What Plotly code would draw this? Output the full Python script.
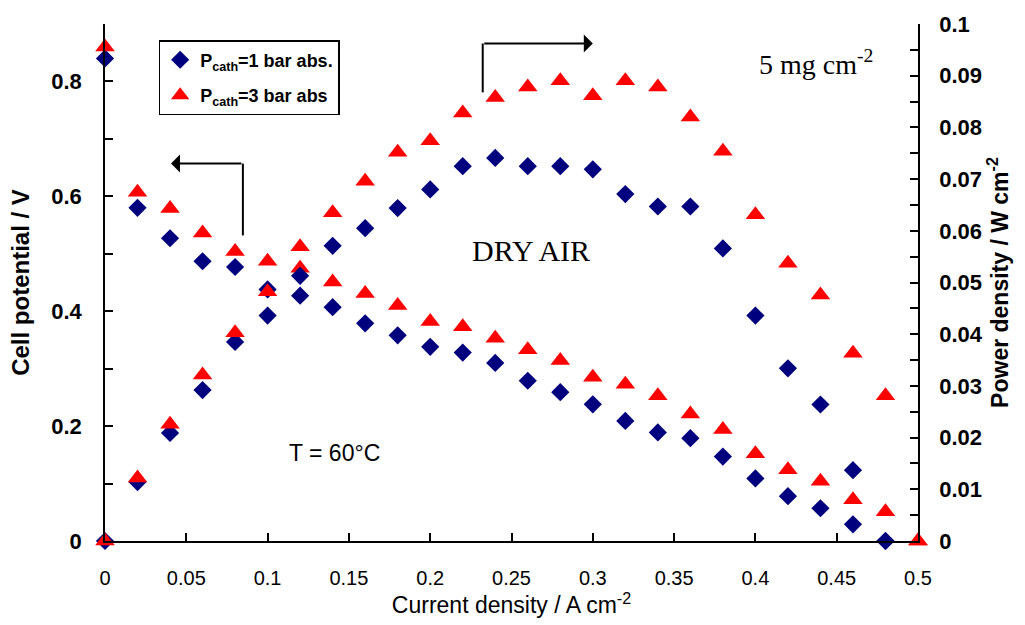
import plotly.graph_objects as go

# ---- data ----
current_1bar = [0, 0.02, 0.04, 0.06, 0.08, 0.10, 0.12, 0.14, 0.16, 0.18, 0.20, 0.22, 0.24,
                0.26, 0.28, 0.30, 0.32, 0.34, 0.36, 0.38, 0.40, 0.42, 0.44, 0.46, 0.48]
potential_1bar = [0.84, 0.580, 0.527, 0.487, 0.477, 0.438, 0.427, 0.407, 0.379, 0.358, 0.338,
                  0.328, 0.310, 0.279, 0.259, 0.238, 0.209, 0.189, 0.179, 0.147, 0.109, 0.078,
                  0.057, 0.029, 0.0]
power_1bar = [0.0, 0.0114, 0.0209, 0.0292, 0.0385, 0.0436, 0.0513, 0.0571, 0.0605, 0.0644,
              0.0680, 0.0725, 0.0741, 0.0725, 0.0725, 0.0719, 0.0671, 0.0647, 0.0647, 0.0566,
              0.0436, 0.0334, 0.0264, 0.0137, 0.0]

current_3bar = [0, 0.02, 0.04, 0.06, 0.08, 0.10, 0.12, 0.14, 0.16, 0.18, 0.20, 0.22, 0.24,
                0.26, 0.28, 0.30, 0.32, 0.34, 0.36, 0.38, 0.40, 0.42, 0.44, 0.46, 0.48, 0.50]
potential_3bar = [0.86, 0.607, 0.579, 0.536, 0.504, 0.487, 0.475, 0.451, 0.431, 0.410, 0.382,
                  0.373, 0.353, 0.333, 0.314, 0.285, 0.273, 0.253, 0.221, 0.194, 0.152, 0.124,
                  0.104, 0.072, 0.051, 0.0]
power_3bar = [0.0, 0.0122, 0.0226, 0.0321, 0.0403, 0.0482, 0.0569, 0.0635, 0.0696, 0.0752,
              0.0774, 0.0828, 0.0858, 0.0878, 0.0890, 0.0861, 0.0890, 0.0878, 0.0820, 0.0754,
              0.0631, 0.0537, 0.0476, 0.0363, 0.0281, 0.0]

x_ticks = [0, 0.05, 0.1, 0.15, 0.2, 0.25, 0.3, 0.35, 0.4, 0.45, 0.5]
x_ticklabels = ["0", "0.05", "0.1", "0.15", "0.2", "0.25", "0.3", "0.35", "0.4", "0.45", "0.5"]
y_ticks = [0, 0.2, 0.4, 0.6, 0.8]
y_ticklabels = ["0", "0.2", "0.4", "0.6", "0.8"]
y2_ticks = [0, 0.01, 0.02, 0.03, 0.04, 0.05, 0.06, 0.07, 0.08, 0.09, 0.1]
y2_ticklabels = ["0", "0.01", "0.02", "0.03", "0.04", "0.05", "0.06", "0.07", "0.08", "0.09", "0.1"]

NAVY = "#00007F"
RED = "#FF0000"
BOLD = "Liberation Sans, Arial, sans-serif"
NARROW = "Liberation Sans Narrow, Arial Narrow, Liberation Sans, sans-serif"
SERIF = "Liberation Serif, Times New Roman, serif"

dia = dict(symbol="diamond", size=14, color=NAVY, line=dict(width=0))
tri = dict(symbol="triangle-up", size=17, color=RED, line=dict(width=0))

fig = go.Figure()
fig.add_trace(go.Scatter(x=current_1bar, y=potential_1bar, mode="markers", marker=dia,
                         name="P<sub>cath</sub>=1 bar abs.", legendgroup="a", cliponaxis=False))
fig.add_trace(go.Scatter(x=current_3bar, y=potential_3bar, mode="markers", marker=tri,
                         name="P<sub>cath</sub>=3 bar abs", legendgroup="b", cliponaxis=False))
fig.add_trace(go.Scatter(x=current_1bar, y=power_1bar, mode="markers", marker=dia, yaxis="y2",
                         showlegend=False, legendgroup="a", cliponaxis=False))
fig.add_trace(go.Scatter(x=current_3bar, y=power_3bar, mode="markers", marker=tri, yaxis="y2",
                         showlegend=False, legendgroup="b", cliponaxis=False))

axis_common = dict(showgrid=False, zeroline=False, showline=True, linecolor="black",
                   linewidth=1.5, ticks="inside", ticklen=8, tickcolor="black", tickwidth=1.5)

fig.update_layout(
    width=1025, height=625,
    margin=dict(l=105, r=107, t=24, b=84),
    paper_bgcolor="white", plot_bgcolor="white",
    font=dict(family=BOLD, color="black"),
    xaxis=dict(range=[0, 0.5], tickvals=x_ticks, ticktext=x_ticklabels,
               tickfont=dict(family=NARROW, size=20, color="black"),
               ticklabelstandoff=18,
               title=dict(text="Current density / A cm<sup>-2</sup>",
                          font=dict(family=NARROW, size=23, color="black"), standoff=3),
               **axis_common),
    yaxis=dict(range=[0, 0.9], tickvals=y_ticks, ticktext=y_ticklabels,
               tickfont=dict(family=BOLD, size=22, color="black", weight="bold"),
               ticklabelstandoff=17,
               minor=dict(dtick=0.1, tick0=0, ticks="inside", ticklen=8, tickcolor="black", tickwidth=1.5),
               title=dict(text="Cell potential / V",
                          font=dict(family=BOLD, size=24, color="black", weight="bold"), standoff=15),
               **axis_common),
    yaxis2=dict(range=[0, 0.1], tickvals=y2_ticks, ticktext=y2_ticklabels, overlaying="y",
                side="right", anchor="x",
                tickfont=dict(family=BOLD, size=22, color="black", weight="bold"),
                ticklabelstandoff=15,
                minor=dict(dtick=0.005, tick0=0, ticks="inside", ticklen=8, tickcolor="black", tickwidth=1.5),
                title=dict(text="Power density / W cm<sup>-2</sup>",
                           font=dict(family=BOLD, size=23, color="black", weight="bold"), standoff=10),
                **axis_common),
    legend=dict(x=0.066, y=0.969, xanchor="left", yanchor="top",
                bgcolor="white", bordercolor="black", borderwidth=1.5,
                font=dict(family=BOLD, size=18, color="black", weight="bold"),
                traceorder="grouped", tracegroupgap=9),
    showlegend=True,
)

# arrows (left arrow -> potential axis, right arrow -> power axis)
fig.add_shape(type="line", xref="x", yref="y", x0=0.0848, y0=0.532, x1=0.0848, y1=0.657,
              line=dict(color="black", width=2))
fig.add_annotation(xref="x", yref="y", axref="x", ayref="y", x=0.0406, y=0.657,
                   ax=0.0848, ay=0.657, text="", showarrow=True, arrowhead=1,
                   arrowwidth=2, arrowsize=1.5, arrowcolor="black")
fig.add_shape(type="line", xref="x", yref="y", x0=0.2323, y0=0.781, x1=0.2323, y1=0.866,
              line=dict(color="black", width=2))
fig.add_annotation(xref="x", yref="y", axref="x", ayref="y", x=0.300, y=0.866,
                   ax=0.2323, ay=0.866, text="", showarrow=True, arrowhead=1,
                   arrowwidth=2, arrowsize=1.5, arrowcolor="black")

fig.add_annotation(xref="x", yref="y", x=0.437, y=0.833, text="5 mg cm<sup>-2</sup>",
                   showarrow=False, font=dict(family=SERIF, size=28, color="black"))
fig.add_annotation(xref="x", yref="y", x=0.2618, y=0.506, text="DRY AIR",
                   showarrow=False, font=dict(family=SERIF, size=30, color="black"))
fig.add_annotation(xref="x", yref="y", x=0.1412, y=0.153, text="T = 60°C",
                   showarrow=False, font=dict(family=BOLD, size=23, color="black"))

fig.write_html("out.html")
